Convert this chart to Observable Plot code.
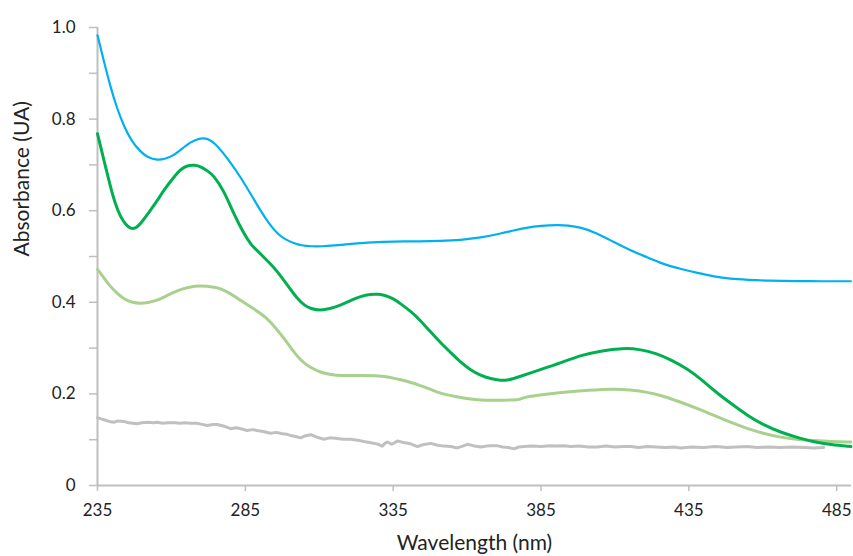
<!DOCTYPE html>
<html>
<head>
<meta charset="utf-8">
<script src="https://cdn.jsdelivr.net/npm/d3@7"></script>
<script src="https://cdn.jsdelivr.net/npm/@observablehq/plot@0.6"></script>
<style>
  html, body { margin: 0; padding: 0; background: #fff; }
  #chart { width: 853px; height: 556px; }
</style>
</head>
<body>
<div id="chart"></div>
<script>
// ---- Data ----
const xTitle = "Wavelength (nm)";
const yTitle = "Absorbance (UA)";
const xTicks = [235, 285, 335, 385, 435, 485];
const yTicks = [0, 0.1, 0.2, 0.3, 0.4, 0.5, 0.6, 0.7, 0.8, 0.9, 1.0];

const blueWl = [235, 237, 239.4, 241.5, 243.9, 246.5, 249.5, 252, 255.2, 258, 260.8, 263.5, 266.5, 269, 271, 273, 275, 277, 280, 283.4, 287, 290.1, 293, 295.8, 298.5, 301.4, 304, 307.1, 311, 315, 320, 324, 327.4, 335, 344.3, 351, 357.8, 364.6, 371.3, 375.8, 380, 385, 390.5, 394, 398.4, 404, 409.7, 415, 421, 426, 432.2, 438, 443.5, 449, 454.8, 462, 471.7, 480, 489.8];
const blueAbs = [0.983, 0.93, 0.87, 0.825, 0.785, 0.752, 0.729, 0.716, 0.710, 0.713, 0.721, 0.735, 0.750, 0.757, 0.759, 0.755, 0.745, 0.730, 0.705, 0.673, 0.635, 0.600, 0.572, 0.550, 0.537, 0.529, 0.524, 0.522, 0.522, 0.524, 0.527, 0.529, 0.531, 0.533, 0.533, 0.534, 0.536, 0.541, 0.550, 0.557, 0.563, 0.567, 0.569, 0.568, 0.564, 0.551, 0.531, 0.514, 0.498, 0.484, 0.473, 0.464, 0.456, 0.451, 0.449, 0.447, 0.446, 0.446, 0.446];

const darkWl = [235, 237, 239.4, 241, 242.8, 244.5, 246.2, 248, 249.5, 252.5, 255.2, 258, 260.8, 263, 265.3, 268, 270, 272, 274.3, 277.7, 281.1, 284.5, 287, 289, 291, 293.5, 296, 298, 300.3, 302.6, 305, 307.1, 310.4, 313.5, 317.2, 320.5, 324, 327.4, 330, 332.4, 335, 337.5, 341, 344.3, 347.5, 351, 354.5, 357.8, 361, 364.6, 368, 371.3, 374, 377, 382, 387.1, 393, 398.4, 405, 413, 418, 424.3, 429, 434.5, 439, 443.5, 449, 454.8, 460, 466.1, 472, 477.3, 483, 489.8];
const darkAbs = [0.768, 0.715, 0.651, 0.615, 0.586, 0.570, 0.560, 0.562, 0.571, 0.597, 0.622, 0.650, 0.673, 0.690, 0.699, 0.700, 0.696, 0.688, 0.677, 0.644, 0.593, 0.550, 0.525, 0.513, 0.500, 0.484, 0.466, 0.448, 0.428, 0.408, 0.393, 0.386, 0.382, 0.386, 0.393, 0.404, 0.413, 0.418, 0.418, 0.415, 0.408, 0.397, 0.380, 0.360, 0.336, 0.312, 0.290, 0.269, 0.253, 0.240, 0.233, 0.229, 0.230, 0.236, 0.247, 0.258, 0.271, 0.284, 0.294, 0.300, 0.298, 0.288, 0.274, 0.255, 0.233, 0.207, 0.180, 0.153, 0.133, 0.116, 0.104, 0.095, 0.089, 0.085];

const lightWl = [235, 237, 239, 241.7, 244, 246.5, 249.5, 252, 255.2, 258, 260.8, 263.5, 266.5, 269.5, 272, 274.5, 276.6, 280, 283.4, 287.5, 291.8, 295, 298.6, 301, 303.7, 307, 310.4, 314, 317.2, 324, 330.7, 334, 337.5, 341, 344.3, 348, 351, 356, 361.2, 366, 371.3, 375.8, 377.5, 379.2, 386, 392.7, 401, 409.7, 415, 421, 426.5, 432.2, 438, 443.5, 449, 454.8, 460, 466.1, 472, 477.3, 483, 489.8];
const lightAbs = [0.472, 0.455, 0.437, 0.419, 0.407, 0.400, 0.397, 0.399, 0.404, 0.413, 0.422, 0.429, 0.434, 0.436, 0.435, 0.433, 0.430, 0.419, 0.404, 0.387, 0.369, 0.346, 0.317, 0.295, 0.273, 0.257, 0.247, 0.242, 0.240, 0.240, 0.240, 0.236, 0.231, 0.225, 0.218, 0.209, 0.201, 0.194, 0.188, 0.186, 0.186, 0.187, 0.187, 0.193, 0.199, 0.204, 0.208, 0.211, 0.209, 0.204, 0.195, 0.182, 0.168, 0.153, 0.138, 0.124, 0.114, 0.105, 0.100, 0.098, 0.096, 0.095];

const grayWl = [235, 236.5, 238, 239.5, 240.5, 242, 243.9, 245.5, 247, 248.4, 250, 252, 254, 255.2, 257, 259, 261, 263, 264.5, 266.5, 268.5, 270, 272.1, 274, 275.5, 277.5, 280, 282, 283.5, 285.6, 287.5, 289, 291, 293.5, 295.5, 297.5, 299, 300.3, 302, 303.7, 305, 307.1, 309, 311.6, 313.5, 315.5, 318, 320.6, 323, 325, 327, 328.5, 330, 331.3, 332.2, 333, 334.5, 336.4, 338.5, 340.9, 343.2, 345, 347.7, 350, 352.2, 354.5, 356.7, 358.5, 360.1, 362, 364.6, 366.5, 368, 370.2, 372, 374, 375.8, 377.5, 379.2, 382, 385, 388, 390, 392.7, 395, 398, 401, 404, 407, 410, 413, 415.3, 418, 421, 424, 427, 430, 432.2, 436, 440, 444, 448, 451, 454.8, 458, 462, 466, 470, 474, 477.3, 480.6];
const grayAbs = [0.148, 0.145, 0.142, 0.139, 0.138, 0.141, 0.140, 0.137, 0.136, 0.135, 0.137, 0.138, 0.137, 0.138, 0.136, 0.137, 0.137, 0.136, 0.137, 0.136, 0.136, 0.134, 0.131, 0.133, 0.133, 0.130, 0.124, 0.126, 0.124, 0.120, 0.122, 0.120, 0.118, 0.114, 0.116, 0.113, 0.112, 0.109, 0.107, 0.104, 0.108, 0.111, 0.106, 0.101, 0.104, 0.103, 0.101, 0.101, 0.099, 0.096, 0.094, 0.092, 0.090, 0.086, 0.092, 0.095, 0.090, 0.097, 0.094, 0.091, 0.085, 0.089, 0.092, 0.088, 0.086, 0.085, 0.082, 0.086, 0.090, 0.087, 0.084, 0.086, 0.087, 0.087, 0.084, 0.083, 0.080, 0.084, 0.085, 0.086, 0.085, 0.087, 0.086, 0.087, 0.085, 0.086, 0.084, 0.084, 0.086, 0.084, 0.085, 0.085, 0.083, 0.085, 0.084, 0.083, 0.084, 0.082, 0.084, 0.083, 0.085, 0.083, 0.084, 0.085, 0.083, 0.084, 0.083, 0.084, 0.083, 0.082, 0.083];

const toRows = (wl, ab) => wl.map((w, i) => ({wl: w, a: ab[i]}));
const blue = toRows(blueWl, blueAbs);
const dark = toRows(darkWl, darkAbs);
const light = toRows(lightWl, lightAbs);
const gray = toRows(grayWl, grayAbs);

const axisColor = "#bfbfbf";
const font = "Lato, 'Open Sans', sans-serif";

const chart = Plot.plot({
  width: 853,
  height: 556,
  marginLeft: 97,
  marginRight: 2,
  marginTop: 27,
  marginBottom: 71,
  style: {fontFamily: font, fontSize: "17px", color: "#222", background: "#fff"},
  x: {domain: [235, 490]},
  y: {domain: [0, 1]},
  marks: [
    Plot.ruleY([0], {stroke: axisColor, strokeWidth: 2}),
    Plot.ruleX([235], {stroke: axisColor, strokeWidth: 2}),
    Plot.axisX({
      ticks: xTicks, tickSize: 6, tickPadding: 12, stroke: axisColor, strokeWidth: 1.5,
      fill: "#222", label: null
    }),
    Plot.axisY({
      ticks: yTicks, tickSize: 8, tickPadding: 14, stroke: axisColor, strokeWidth: 1.5, fill: "#222",
      tickFormat: d => (Math.round(d * 10) % 2 !== 0) ? "" : (d === 0 ? "0" : d.toFixed(1)),
      label: null
    }),
    Plot.text([xTitle], {frameAnchor: "bottom", dy: 64, fontSize: 21, fill: "#222"}),
    Plot.text([yTitle], {frameAnchor: "left", dx: -75, rotate: -90, fontSize: 21, fill: "#222"}),
    Plot.line(gray, {x: "wl", y: "a", stroke: "#c0c0c0", strokeWidth: 3}),
    Plot.line(light, {x: "wl", y: "a", stroke: "#a9d18e", strokeWidth: 3, curve: "basis"}),
    Plot.line(dark, {x: "wl", y: "a", stroke: "#00b050", strokeWidth: 3, curve: "basis"}),
    Plot.line(blue, {x: "wl", y: "a", stroke: "#00b0f0", strokeWidth: 2.2, curve: "basis"})
  ]
});
document.getElementById("chart").appendChild(chart);
</script>
</body>
</html>
